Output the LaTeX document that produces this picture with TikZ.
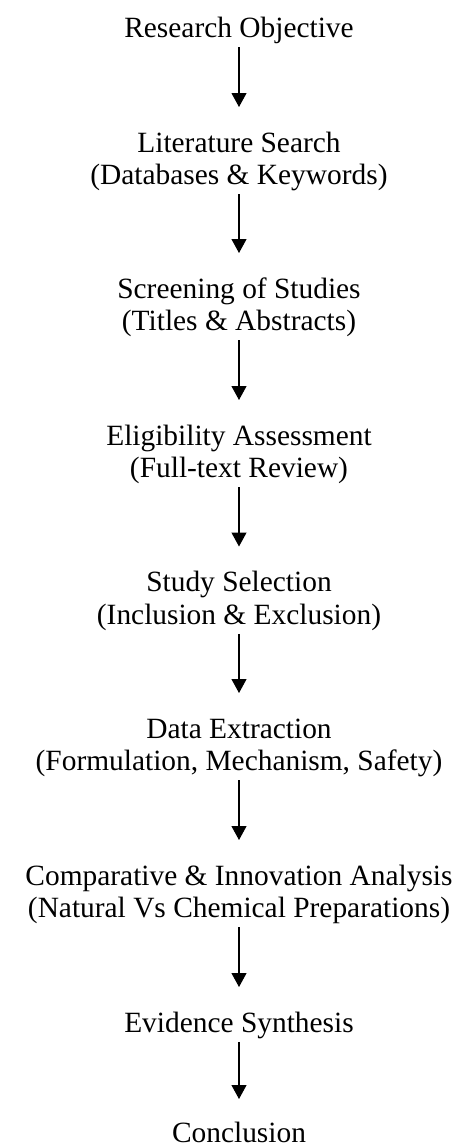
\documentclass[tikz,border=0pt]{standalone}
\usepackage{fontspec}
\setmainfont{Liberation Serif}
\usetikzlibrary{arrows.meta}
\newcommand{\stk}[1]{\begin{tabular}[t]{@{}c@{}}#1\end{tabular}}
\tikzset{
  stepnode/.style={inner sep=0pt, outer sep=0pt, anchor=base,
    font=\fontsize{29.4}{32.5}\selectfont},
  flowarrow/.style={draw=black, line width=1.1pt,
    -{Triangle[width=15pt,length=14pt]}, shorten >=22.25pt}
}
\begin{document}
\begin{tikzpicture}[x=1pt,y=-1pt]
\useasboundingbox (0,0) rectangle (470,1148);
\node[stepnode] (n1) at (239,37.5) {\stk{Research Objective}};
\node[stepnode] (n2) at (239,152) {\stk{Literature Search\\(Databases \& Keywords)}};
\node[stepnode] (n3) at (239,298) {\stk{Screening of Studies\\(Titles \& Abstracts)}};
\node[stepnode] (n4) at (239,445) {\stk{Eligibility Assessment\\(Full-text Review)}};
\node[stepnode] (n5) at (239,591.5) {\stk{Study Selection\\(Inclusion \& Exclusion)}};
\node[stepnode] (n6) at (239,738) {\stk{Data Extraction\\(Formulation, Mechanism, Safety)}};
\node[stepnode] (n7) at (239,885) {\stk{Comparative \& Innovation Analysis\\(Natural Vs Chemical Preparations)}};
\node[stepnode] (n8) at (239,1032) {\stk{Evidence Synthesis}};
\node[stepnode] (n9) at (239,1142) {\stk{Conclusion}};
\draw[flowarrow] (n1.south) -- (n2.north);
\draw[flowarrow] (n2.south) -- (n3.north);
\draw[flowarrow] (n3.south) -- (n4.north);
\draw[flowarrow] (n4.south) -- (n5.north);
\draw[flowarrow] (n5.south) -- (n6.north);
\draw[flowarrow] (n6.south) -- (n7.north);
\draw[flowarrow] (n7.south) -- (n8.north);
\draw[flowarrow, shorten >=20.25pt] (n8.south) -- (n9.north);
\end{tikzpicture}
\end{document}
